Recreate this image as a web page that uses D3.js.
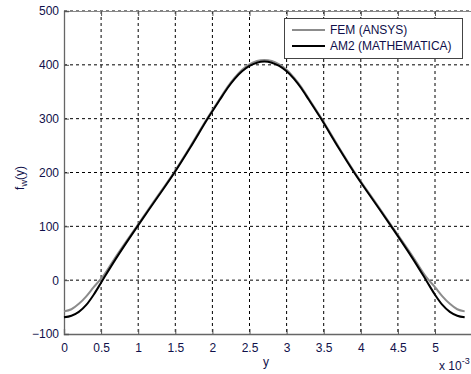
<!DOCTYPE html>
<html><head><meta charset="utf-8">
<script src="https://cdn.jsdelivr.net/npm/d3@7"></script>
<style>body{margin:0;background:#fff}svg{display:block}text{font-family:"Liberation Sans",Arial,sans-serif}</style>
</head><body>
<svg id="c" width="471" height="374"></svg>
<script>
const xVals = [0,0.1,0.2,0.3,0.4,0.52,0.7,0.99,1.2,1.49,1.7,1.95,2.1,2.2,2.3,2.4,2.5,2.6,2.7,2.8,2.9,3.0,3.1,3.2,3.3,3.45,3.7,3.91,4.2,4.41,4.7,4.88,5.0,5.1,5.2,5.3,5.4];
const femVals = [-58,-54,-44,-30,-13,6,44,102,144,202,248,305,337,358,376,391,401,407,409,407,401,391,376,358,337,305,248,202,144,102,44,6,-13,-30,-44,-54,-58];
const am2Vals = [-69,-66,-59,-46,-27,0,40,100,142,200,246,303,335,356,374,388,398,404,406,404,398,388,374,356,335,303,246,200,142,100,40,0,-27,-46,-59,-66,-69];
const xTicks = [0,0.5,1,1.5,2,2.5,3,3.5,4,4.5,5];
const yTicks = [-100,0,100,200,300,400,500];
const seriesNames = ["FEM (ANSYS)","AM2 (MATHEMATICA)"];
const seriesColors = ["#8c8c8c","#000000"];

const svg = d3.select("#c");
const L = 64, R = 64 + 5.6*74.2, T = 11, B = 334;
const x = d3.scaleLinear().domain([0,5.6]).range([L,R]);
const y = d3.scaleLinear().domain([-100,500]).range([B,T]);

// grid
const g = svg.append("g");
g.selectAll(".vg").data(xTicks.filter(d=>d>0)).join("line")
  .attr("x1",d=>x(d)).attr("x2",d=>x(d)).attr("y1",T).attr("y2",B)
  .attr("stroke","#000").attr("stroke-width",1).attr("stroke-dasharray","3,3");
g.selectAll(".hg").data(yTicks.filter(d=>d>-100)).join("line")
  .attr("x1",L).attr("x2",R).attr("y1",d=>y(d)).attr("y2",d=>y(d))
  .attr("stroke","#000").attr("stroke-width",1).attr("stroke-dasharray","3,3");

// axes
const ax = svg.append("g").attr("transform",`translate(0,${B})`)
  .call(d3.axisBottom(x).tickValues(xTicks).tickSize(-5).tickPadding(9).tickFormat(d3.format("")));
const axT = svg.append("g").attr("transform",`translate(0,${T})`)
  .call(d3.axisTop(x).tickValues(xTicks).tickSize(-5).tickFormat(""));
const ay = svg.append("g").attr("transform",`translate(${L},0)`)
  .call(d3.axisLeft(y).tickValues(yTicks).tickSize(-5).tickPadding(5));
[ax,axT,ay].forEach(a=>{
  a.select(".domain").attr("stroke","#666").attr("stroke-width",1.3);
  a.selectAll(".tick line").attr("stroke","#555");
  a.selectAll("text").attr("font-size",12).attr("fill","#10104a").attr("font-family","Liberation Sans, Arial, sans-serif");
});
axT.select(".domain").attr("stroke","#888").attr("stroke-width",1);

// lines
const line = d3.line().x((d,i)=>x(xVals[i])).y(d=>y(d)).curve(d3.curveMonotoneX);
[femVals, am2Vals].forEach((vals,k)=>{
  svg.append("path").datum(vals).attr("d",line).attr("fill","none")
    .attr("stroke",seriesColors[k]).attr("stroke-width",2);
});

// legend
const lg = svg.append("g");
lg.append("rect").attr("x",284.5).attr("y",18.5).attr("width",178).attr("height",40)
  .attr("fill","#fff").attr("stroke","#444").attr("stroke-width",1);
seriesNames.forEach((n,i)=>{
  const yy = 30 + i*16;
  lg.append("line").attr("x1",292).attr("x2",325).attr("y1",yy).attr("y2",yy)
    .attr("stroke",seriesColors[i]).attr("stroke-width",2);
  lg.append("text").attr("x",330).attr("y",yy+4).attr("font-size",12).attr("fill","#10104a").text(n);
});

// labels
svg.append("text").attr("x",266).attr("y",366).attr("text-anchor","middle")
  .attr("font-size",12).attr("fill","#10104a").text("y");
const xl = svg.append("text").attr("x",439).attr("y",370).attr("font-size",12).attr("fill","#10104a");
xl.append("tspan").text("x 10");
xl.append("tspan").attr("dy",-6).attr("font-size",9).text("-3");
const yl = svg.append("text").attr("transform","translate(24,178) rotate(-90)")
  .attr("text-anchor","middle").attr("font-size",12).attr("fill","#10104a");
yl.append("tspan").text("f");
yl.append("tspan").attr("dy",3).attr("font-size",9).text("w");
yl.append("tspan").attr("dy",-3).text("(y)");
</script>
</body></html>
